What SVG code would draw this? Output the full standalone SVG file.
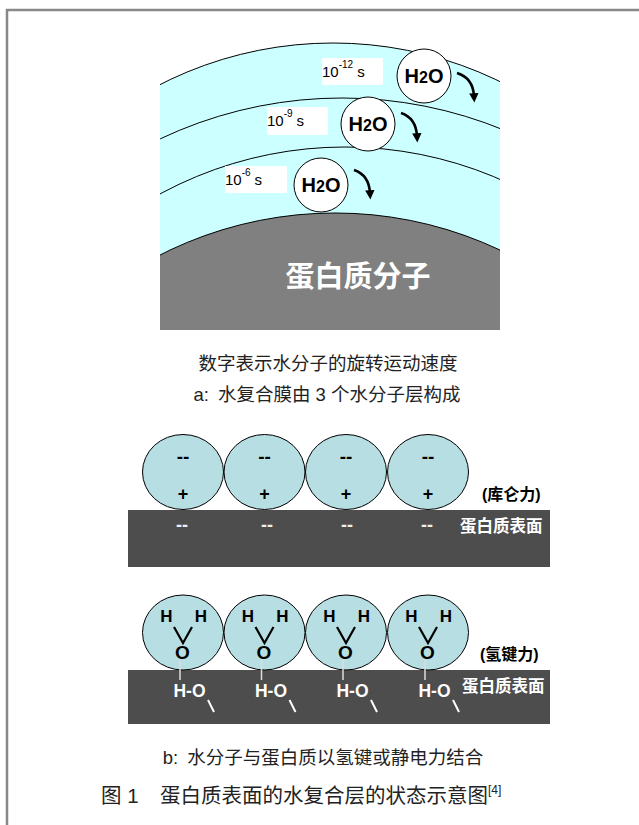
<svg xmlns="http://www.w3.org/2000/svg" width="639" height="825" viewBox="0 0 639 825">
  <style>
    .cap { font-family: "Liberation Sans", "Noto Sans CJK SC", sans-serif; font-size: 18.5px; fill: #222; text-anchor: middle; }
    .title { font-family: "Liberation Sans", "Noto Sans CJK SC", sans-serif; font-size: 20.5px; fill: #222; }
    .time { font-family: "Liberation Sans", sans-serif; font-size: 15px; fill: #000; }
    .sup { font-size: 10px; }
    .h2o { font-family: "Liberation Sans", sans-serif; font-weight: bold; font-size: 20px; fill: #000; text-anchor: middle; }
    .mol { fill: #b7dee2; stroke: #000; stroke-width: 1; }
    .chg { font-family: "Liberation Sans", sans-serif; font-weight: bold; font-size: 19px; fill: #000; text-anchor: middle; }
    .plus { font-family: "Liberation Sans", sans-serif; font-weight: bold; font-size: 18px; fill: #000; text-anchor: middle; }
    .chgw { font-family: "Liberation Sans", sans-serif; font-weight: bold; font-size: 18px; fill: #eee; text-anchor: middle; }
    .atom { font-family: "Liberation Sans", sans-serif; font-weight: bold; font-size: 17px; fill: #000; text-anchor: middle; }
    .oxy { font-family: "Liberation Sans", sans-serif; font-weight: bold; font-size: 19px; fill: #000; text-anchor: middle; }
    .hw { font-family: "Liberation Sans", sans-serif; font-weight: bold; font-size: 17.5px; fill: #fff; text-anchor: middle; }
    .force { font-family: "Liberation Sans", "Noto Sans CJK SC", sans-serif; font-weight: bold; font-size: 16px; fill: #000; }
    .surf { font-family: "Liberation Sans", "Noto Sans CJK SC", sans-serif; font-weight: bold; font-size: 16.5px; fill: #fff; }
    .bar { fill: #4d4d4d; }
    .rot { fill: none; stroke: #000; stroke-width: 2.6; marker-end: url(#head); }
  </style>
  <defs>
    <clipPath id="panelA">
      <rect x="160" y="20" width="340" height="310"/>
    </clipPath>
    <marker id="head" viewBox="0 0 10 10" refX="3" refY="5" markerWidth="3.6" markerHeight="3.6" orient="auto" markerUnits="strokeWidth">
      <path d="M0,0 L10,5 L0,10 z" fill="#000"/>
    </marker>
  </defs>

  <rect width="639" height="825" fill="#fff"/>
  <!-- page frame -->
  <path d="M7,825 V10 H639" fill="none" stroke="#888" stroke-width="2.5"/>

  <!-- panel a: hydration layers around the protein -->
  <g id="panel-a-layers" clip-path="url(#panelA)">
    <circle cx="333" cy="424" r="381" fill="#ccffff" stroke="#000" stroke-width="1"/>
    <circle cx="342" cy="523" r="425" fill="none" stroke="#000" stroke-width="1"/>
    <circle cx="345" cy="535" r="388" fill="none" stroke="#000" stroke-width="1"/>
    <circle id="protein" cx="335" cy="599" r="386" fill="#808080" stroke="#000" stroke-width="1"/>
  </g>
  <text x="358" y="287" font-family="'Liberation Sans','Noto Sans CJK SC',sans-serif" font-weight="bold" font-size="29" fill="#fff" text-anchor="middle">蛋白质分子</text>

  <g id="layer-outer">
    <rect x="322" y="58" width="61" height="27" fill="#fff"/>
    <text class="time" x="322" y="77">10<tspan class="sup" dy="-9">-12</tspan><tspan dx="4" dy="9">s</tspan></text>
    <circle cx="424" cy="76" r="27" fill="#fff" stroke="#000" stroke-width="1"/>
    <text class="h2o" x="424" y="83">H<tspan font-size="16">2</tspan>O</text>
    <path class="rot" d="M457,73 Q473,78 474,96"/>
  </g>
  <g id="layer-middle">
    <rect x="267" y="107" width="61" height="28" fill="#fff"/>
    <text class="time" x="267" y="126">10<tspan class="sup" dy="-9">-9</tspan><tspan dx="4" dy="9">s</tspan></text>
    <circle cx="368" cy="124" r="27" fill="#fff" stroke="#000" stroke-width="1"/>
    <text class="h2o" x="368" y="131">H<tspan font-size="16">2</tspan>O</text>
    <path class="rot" d="M401,113 Q416,118 417,136"/>
  </g>
  <g id="layer-inner">
    <rect x="225" y="166" width="62" height="27" fill="#fff"/>
    <text class="time" x="225" y="185">10<tspan class="sup" dy="-9">-6</tspan><tspan dx="4" dy="9">s</tspan></text>
    <circle cx="321" cy="185" r="27" fill="#fff" stroke="#000" stroke-width="1"/>
    <text class="h2o" x="321" y="192">H<tspan font-size="16">2</tspan>O</text>
    <path class="rot" d="M354,170 Q369,175 370,193"/>
  </g>

  <text class="cap" x="328" y="370">数字表示水分子的旋转运动速度</text>
  <text class="cap" x="327" y="401">a:<tspan dx="9">水复合膜由 3 个水分子层构成</tspan></text>

  <!-- panel b (upper): electrostatic binding -->
  <g id="surface-coulomb">
    <rect class="bar" x="128" y="510" width="422" height="57"/>
    <text class="surf" x="460" y="532">蛋白质表面</text>
    <text class="chgw" x="182" y="531">--</text>
    <text class="chgw" x="267" y="531">--</text>
    <text class="chgw" x="347" y="531">--</text>
    <text class="chgw" x="427" y="531">--</text>
  </g>
  <g id="water-c1"><ellipse class="mol" cx="183" cy="472" rx="40.5" ry="37.5"/><text class="chg" x="183" y="463">--</text><text class="plus" x="183" y="500">+</text></g>
  <g id="water-c2"><ellipse class="mol" cx="264.5" cy="472" rx="40.5" ry="37.5"/><text class="chg" x="264.5" y="463">--</text><text class="plus" x="264.5" y="500">+</text></g>
  <g id="water-c3"><ellipse class="mol" cx="346" cy="472" rx="40.5" ry="37.5"/><text class="chg" x="346" y="463">--</text><text class="plus" x="346" y="500">+</text></g>
  <g id="water-c4"><ellipse class="mol" cx="428" cy="472" rx="40.5" ry="37.5"/><text class="chg" x="428" y="463">--</text><text class="plus" x="428" y="500">+</text></g>
  <text class="force" x="482" y="500">(库仑力)</text>

  <!-- panel b (lower): hydrogen-bond binding -->
  <g id="surface-hbond">
    <rect class="bar" x="128" y="670" width="422" height="54"/>
    <text class="surf" x="462" y="692">蛋白质表面</text>
  </g>
  <g id="water-h1" transform="translate(183,0)">
    <ellipse class="mol" cx="0" cy="632.5" rx="40.5" ry="37.5"/>
    <text class="atom" x="-16.5" y="622">H</text><text class="atom" x="18" y="622">H</text>
    <path d="M-9,627 L0,643 L9,627" fill="none" stroke="#000" stroke-width="2.2"/>
    <text class="oxy" x="-0.5" y="659">O</text>
    <line x1="-3" y1="660" x2="-3" y2="680" stroke="#ddd" stroke-width="1.5"/>
    <text class="hw" x="6.5" y="697">H-O</text>
    <line x1="25" y1="700" x2="31" y2="712" stroke="#fff" stroke-width="2"/>
  </g>
  <g id="water-h2" transform="translate(264.5,0)">
    <ellipse class="mol" cx="0" cy="632.5" rx="40.5" ry="37.5"/>
    <text class="atom" x="-16.5" y="622">H</text><text class="atom" x="18" y="622">H</text>
    <path d="M-9,627 L0,643 L9,627" fill="none" stroke="#000" stroke-width="2.2"/>
    <text class="oxy" x="-0.5" y="659">O</text>
    <line x1="-3" y1="660" x2="-3" y2="680" stroke="#ddd" stroke-width="1.5"/>
    <text class="hw" x="6.5" y="697">H-O</text>
    <line x1="25" y1="700" x2="31" y2="712" stroke="#fff" stroke-width="2"/>
  </g>
  <g id="water-h3" transform="translate(346,0)">
    <ellipse class="mol" cx="0" cy="632.5" rx="40.5" ry="37.5"/>
    <text class="atom" x="-16.5" y="622">H</text><text class="atom" x="18" y="622">H</text>
    <path d="M-9,627 L0,643 L9,627" fill="none" stroke="#000" stroke-width="2.2"/>
    <text class="oxy" x="-0.5" y="659">O</text>
    <line x1="-3" y1="660" x2="-3" y2="680" stroke="#ddd" stroke-width="1.5"/>
    <text class="hw" x="6.5" y="697">H-O</text>
    <line x1="25" y1="700" x2="31" y2="712" stroke="#fff" stroke-width="2"/>
  </g>
  <g id="water-h4" transform="translate(428,0)">
    <ellipse class="mol" cx="0" cy="632.5" rx="40.5" ry="37.5"/>
    <text class="atom" x="-16.5" y="622">H</text><text class="atom" x="18" y="622">H</text>
    <path d="M-9,627 L0,643 L9,627" fill="none" stroke="#000" stroke-width="2.2"/>
    <text class="oxy" x="-0.5" y="659">O</text>
    <line x1="-3" y1="660" x2="-3" y2="680" stroke="#ddd" stroke-width="1.5"/>
    <text class="hw" x="6.5" y="697">H-O</text>
    <line x1="25" y1="700" x2="31" y2="712" stroke="#fff" stroke-width="2"/>
  </g>
  <text class="force" x="480" y="660">(氢键力)</text>

  <text class="cap" x="323" y="764">b:<tspan dx="9">水分子与蛋白质以氢键或静电力结合</tspan></text>
  <text class="title" x="101" y="803">图 1<tspan x="160">蛋白质表面的水复合层的状态示意图</tspan><tspan font-size="12" dy="-9">[4]</tspan></text>
</svg>
